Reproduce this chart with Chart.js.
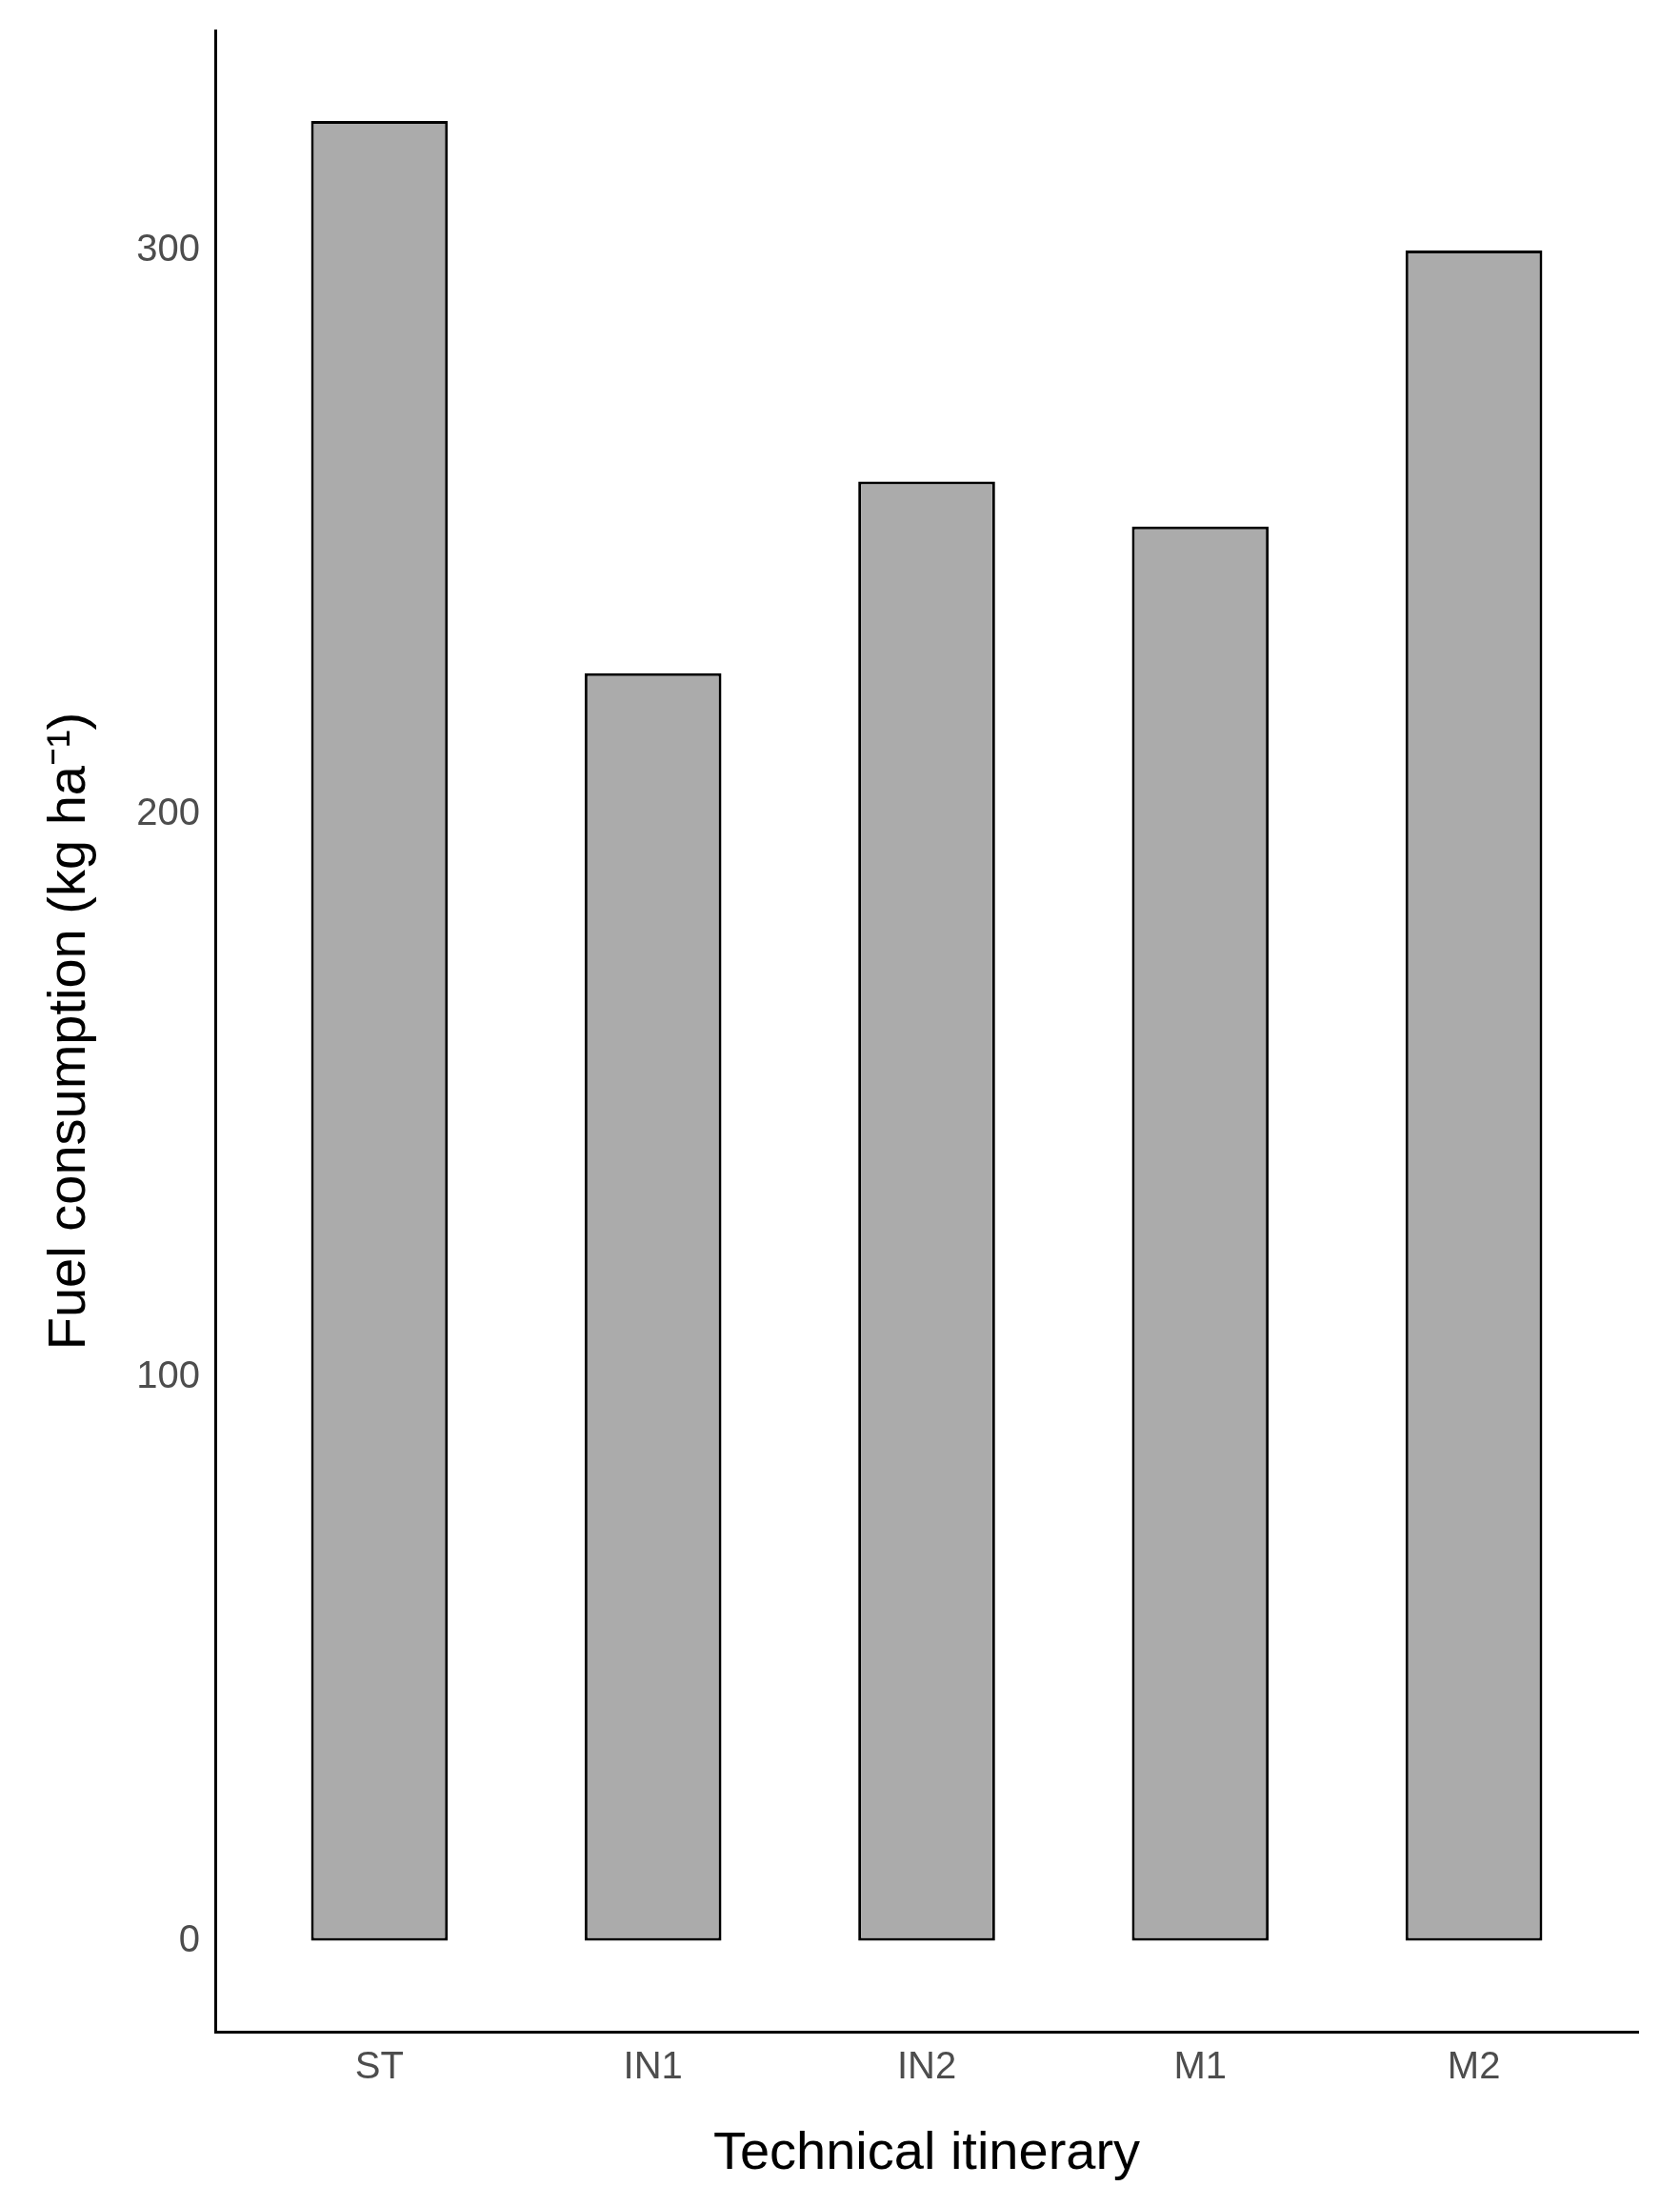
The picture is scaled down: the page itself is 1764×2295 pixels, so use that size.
<!DOCTYPE html>
<html>
<head>
<meta charset="utf-8">
<script src="https://cdn.jsdelivr.net/npm/chart.js@4/dist/chart.umd.min.js"></script>
<style>
  html, body { margin: 0; padding: 0; background: #fff; }
  #wrap { width: 1764px; height: 2295px; }
</style>
</head>
<body>
<div id="wrap"><canvas id="chart"></canvas></div>
<script>
// Data
const categories = ["ST", "IN1", "IN2", "M1", "M2"];
const fuelValues = [323, 225, 259, 251, 300];
const yTicks = [0, 100, 200, 300];

const ctx = document.getElementById("chart").getContext("2d");

new Chart(ctx, {
  type: "bar",
  data: {
    datasets: [{
      data: fuelValues.map((v, i) => ({ x: i, y: v })),
      backgroundColor: "#ababab",
      borderColor: "#000000",
      borderWidth: 3,
      borderSkipped: false,
      barPercentage: 0.5,
      categoryPercentage: 1
    }]
  },
  options: {
    responsive: true,
    maintainAspectRatio: false,
    animation: false,
    layout: { padding: { top: 32, right: 44, left: 0, bottom: 0 } },
    plugins: { legend: { display: false }, tooltip: { enabled: false } },
    scales: {
      x: {
        type: "linear",
        offset: false,
        min: -0.6,
        max: 4.6,
        afterBuildTicks: (scale) => {
          scale.ticks = categories.map((c, i) => ({ value: i }));
        },
        afterFit: (scale) => { scale.height = 162; },
        grid: { display: false, drawTicks: true, tickLength: 10, tickColor: "#333" },
        border: { display: true, color: "#000", width: 3 },
        ticks: {
          color: "#4d4d4d",
          font: { family: "Liberation Sans", size: 40 },
          padding: 4,
          callback: (v) => categories[v] ?? ""
        },
        title: {
          display: true,
          text: "Technical itinerary",
          color: "#000",
          font: { family: "Liberation Sans", size: 56 },
          padding: { top: -6, bottom: 0 }
        }
      },
      y: {
        min: -16.15,
        max: 339.06,
        afterBuildTicks: (scale) => {
          scale.ticks = yTicks.map(v => ({ value: v }));
        },
        afterFit: (scale) => { scale.width = 226; },
        grid: { display: false, drawTicks: true, tickLength: 10, tickColor: "#333" },
        border: { display: true, color: "#000", width: 3 },
        ticks: {
          color: "#4d4d4d",
          font: { family: "Liberation Sans", size: 40 },
          padding: 6
        },
        title: {
          display: true,
          text: "Fuel consumption (kg ha\u207B\u00B9)",
          color: "#000",
          font: { family: "Liberation Sans", size: 56 },
          padding: { top: 40, bottom: 20 }
        }
      }
    }
  }
});
</script>
</body>
</html>
